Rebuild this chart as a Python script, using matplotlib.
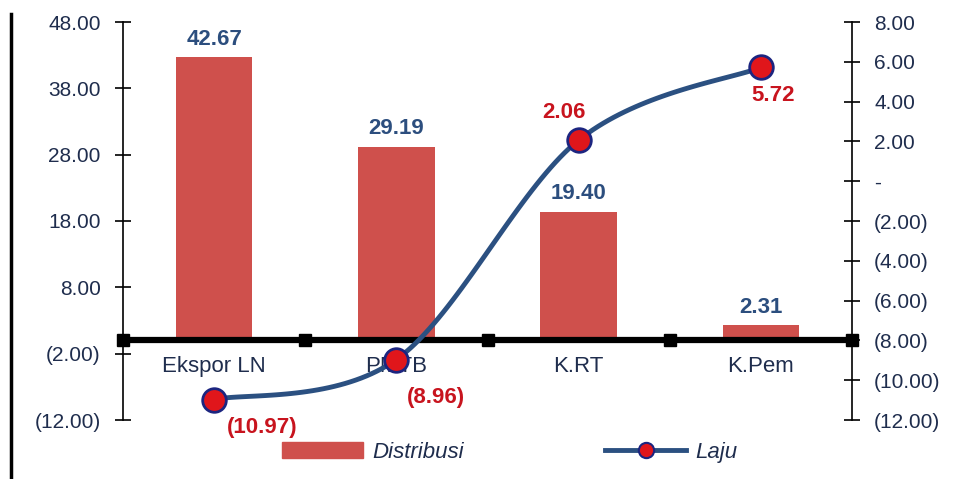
import numpy as np
import matplotlib.pyplot as plt
from matplotlib.lines import Line2D
from matplotlib.patches import Patch
from matplotlib.ticker import FuncFormatter

plt.rcParams['font.family'] = ['Liberation Sans', 'DejaVu Sans']

categories = ["Ekspor LN", "PMTB", "K.RT", "K.Pem"]
distribusi = [42.67, 29.19, 19.40, 2.31]
laju = [-10.97, -8.96, 2.06, 5.72]

bar_col = "#cf504c"
line_col = "#2b5081"
tick_col = "#1f2d4d"
bar_txt = "#2c4e7e"
line_txt = "#c8141e"


def paren(v, pos=None):
    if abs(v) < 1e-9:
        return "-"
    if v < 0:
        return "(%.2f)" % abs(v)
    return "%.2f" % v


fig = plt.figure(figsize=(9.58, 4.79), dpi=100)
ax = fig.add_axes([123 / 958, 1 - 420 / 479, (852 - 123) / 958, (420 - 22) / 479])
ax2 = ax.twinx()

x = np.arange(len(categories))
ax.bar(x, distribusi, width=0.42, color=bar_col, zorder=2)
ax.set_xlim(-0.5, 3.5)
ax.set_ylim(-12, 48)
ax.set_yticks(np.arange(-12, 49, 10))
ax.yaxis.set_major_formatter(FuncFormatter(paren))
ax2.set_ylim(-12, 8)
ax2.set_yticks(np.arange(-12, 9, 2))
ax2.yaxis.set_major_formatter(FuncFormatter(paren))

for a in (ax, ax2):
    a.spines['top'].set_visible(False)
    a.spines['bottom'].set_visible(False)
    a.tick_params(axis='y', direction='inout', length=12, width=1.2,
                  labelsize=15, labelcolor=tick_col, pad=10)
    a.set_xticks([])
ax.spines['left'].set_linewidth(1.2)
ax2.spines['right'].set_linewidth(1.2)
ax2.spines['left'].set_visible(False)
ax.spines['right'].set_visible(False)

# thick zero line with square markers at category boundaries
bounds = np.arange(-0.5, len(categories), 1.0)
ax.plot(bounds, np.zeros_like(bounds), color='black', lw=4.5, marker='s',
        ms=8, zorder=3, clip_on=False)

for i, c in enumerate(categories):
    ax.text(i, -4.0, c, ha='center', va='center', fontsize=16, color=tick_col)

for i, v in enumerate(distribusi):
    ax.annotate("%.2f" % v, (i, v), xytext=(0, 18), textcoords='offset pixels',
                ha='center', va='center', fontsize=16, fontweight='bold', color=bar_txt)

# smoothed line (Excel-style bezier through the points)
px = x.astype(float)
py = np.array(laju)
cx, cy = [], []
n = len(px)
for i in range(n - 1):
    p0 = (px[max(i - 1, 0)], py[max(i - 1, 0)])
    p1 = (px[i], py[i])
    p2 = (px[i + 1], py[i + 1])
    p3 = (px[min(i + 2, n - 1)], py[min(i + 2, n - 1)])
    c1 = (p1[0] + (p2[0] - p0[0]) / 6, p1[1] + (p2[1] - p0[1]) / 6)
    c2 = (p2[0] - (p3[0] - p1[0]) / 6, p2[1] - (p3[1] - p1[1]) / 6)
    t = np.linspace(0, 1, 40)
    b0, b1, b2, b3 = (1 - t) ** 3, 3 * t * (1 - t) ** 2, 3 * t ** 2 * (1 - t), t ** 3
    cx.extend(b0 * p1[0] + b1 * c1[0] + b2 * c2[0] + b3 * p2[0])
    cy.extend(b0 * p1[1] + b1 * c1[1] + b2 * c2[1] + b3 * p2[1])
ax2.plot(cx, cy, color=line_col, lw=3.5, zorder=4, solid_capstyle='round')
ax2.plot(px, py, ls='none', marker='o', ms=17, mfc="#e0161b", mec="#1c2580",
         mew=2, zorder=5)

offs = [(48, -28), (40, -38), (-15, 28), (12, -28)]
for i, v in enumerate(laju):
    ax2.annotate(paren(v), (i, v), xytext=offs[i], textcoords='offset pixels',
                 ha='center', va='center', fontsize=16, fontweight='bold', color=line_txt)

ax2.set_zorder(ax.get_zorder() + 1)
ax2.patch.set_visible(False)

handles = [Patch(color=bar_col),
           Line2D([], [], color=line_col, lw=3.5, marker='o', ms=11,
                  mfc="#e0161b", mec="#1c2580", mew=1.5)]
fig.legend(handles, ["Distribusi", "Laju"], loc='center', bbox_to_anchor=(0.532, 0.056),
           ncol=2, frameon=False, handlelength=3.65, handleheight=0.7,
           columnspacing=6.35, handletextpad=0.4,
           prop={'size': 16, 'style': 'italic'}, labelcolor=tick_col)

# left border line
fig.add_artist(Line2D([11 / 958, 11 / 958], [0, 1 - 14 / 479], color='black', lw=2.5))

fig.savefig("out.png", dpi=100)
